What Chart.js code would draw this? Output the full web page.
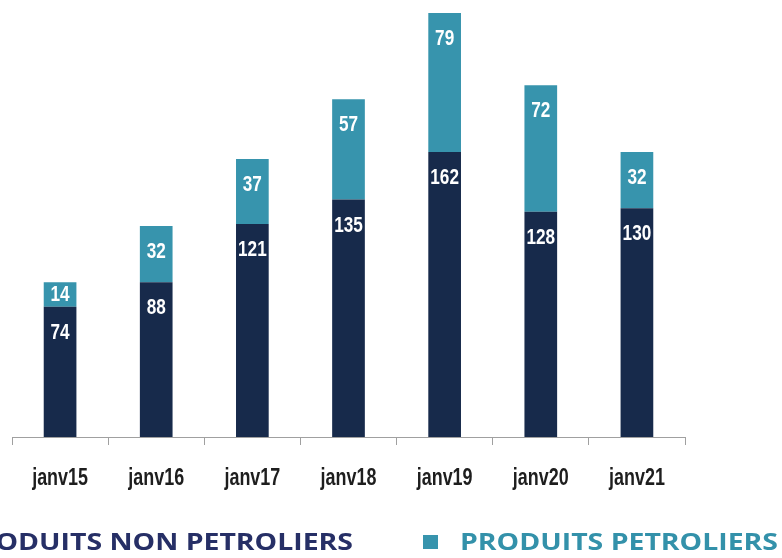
<!DOCTYPE html>
<html>
<head>
<meta charset="utf-8">
<script src="https://cdn.jsdelivr.net/npm/chart.js@4"></script>
<style>
  html, body { margin: 0; padding: 0; background: #ffffff; }
  #wrap { width: 782px; height: 558px; position: relative; }
</style>
</head>
<body>
<div id="wrap"><canvas id="c" width="782" height="558"></canvas></div>
<script>
const categories = ['janv15', 'janv16', 'janv17', 'janv18', 'janv19', 'janv20', 'janv21'];
const nonPetroliers = [74, 88, 121, 135, 162, 128, 130];
const petroliers = [14, 32, 37, 57, 79, 72, 32];
const seriesNames = ['PRODUITS NON PETROLIERS', 'PRODUITS PETROLIERS'];

const DARK = '#172a4b';
const TEAL = '#3794ad';
const SANS = '"Liberation Sans", Arial, sans-serif';
const NARROW_X = 0.78;

function condensedText(ctx, text, x, y, sx) {
  ctx.save();
  ctx.translate(x, y);
  ctx.scale(sx, 1);
  ctx.fillText(text, 0, 0);
  ctx.restore();
}

const valueLabels = {
  id: 'valueLabels',
  afterDatasetsDraw(chart) {
    const ctx = chart.ctx;
    ctx.save();
    ctx.fillStyle = '#ffffff';
    ctx.font = 'bold 22px ' + SANS;
    ctx.textAlign = 'center';
    ctx.textBaseline = 'middle';
    chart.data.datasets.forEach((ds, di) => {
      const meta = chart.getDatasetMeta(di);
      meta.data.forEach((el, i) => {
        const top = Math.min(el.y, el.base);
        const bot = Math.max(el.y, el.base);
        const y = Math.min(top + 26, (top + bot) / 2);
        condensedText(ctx, String(ds.data[i]), el.x, y, NARROW_X);
      });
    });
    ctx.restore();
  }
};

const tickLabels = {
  id: 'tickLabels',
  afterDraw(chart) {
    const ctx = chart.ctx;
    const xs = chart.scales.x;
    ctx.save();
    ctx.fillStyle = '#1e1e1e';
    ctx.font = 'bold 23px ' + SANS;
    ctx.textAlign = 'center';
    ctx.textBaseline = 'alphabetic';
    xs.ticks.forEach((t, i) => {
      const label = xs.getLabelForValue(t.value);
      condensedText(ctx, label, xs.getPixelForTick(i), 485, NARROW_X);
    });
    ctx.restore();
  }
};

const customLegend = {
  id: 'customLegend',
  afterDraw(chart) {
    const ctx = chart.ctx;
    ctx.save();
    ctx.textBaseline = 'alphabetic';
    ctx.textAlign = 'left';
    ctx.font = 'bold 24px "Open Sans", "Liberation Sans", sans-serif';
    const target2 = 318;
    const sx = target2 / ctx.measureText(seriesNames[1]).width;
    // right item
    ctx.fillStyle = TEAL;
    ctx.fillRect(423, 535, 15, 14);
    ctx.fillStyle = '#3391aa';
    condensedText(ctx, seriesNames[1], 460, 550, sx);
    // left item (clipped by canvas edge)
    const w1 = ctx.measureText(seriesNames[0]).width * sx;
    const x1 = 353 - w1;
    ctx.fillStyle = '#262f66';
    condensedText(ctx, seriesNames[0], x1, 550, sx);
    ctx.fillStyle = DARK;
    ctx.fillRect(x1 - 37, 535, 15, 14);
    ctx.restore();
  }
};

new Chart(document.getElementById('c'), {
  type: 'bar',
  data: {
    labels: categories,
    datasets: [
      { label: seriesNames[0], data: nonPetroliers, backgroundColor: DARK, borderWidth: 0,
        barPercentage: 0.68, categoryPercentage: 0.5 },
      { label: seriesNames[1], data: petroliers, backgroundColor: TEAL, borderWidth: 0,
        barPercentage: 0.68, categoryPercentage: 0.5 }
    ]
  },
  options: {
    responsive: false,
    animation: false,
    layout: { padding: { left: 12, right: 97, top: 13, bottom: 0 } },
    plugins: {
      legend: { display: false },
      tooltip: { enabled: false }
    },
    scales: {
      x: {
        stacked: true,
        grid: { display: true, offset: true, drawOnChartArea: false, drawTicks: true, tickLength: 8, color: '#a0a0a0', lineWidth: 1 },
        border: { display: true, color: '#a0a0a0', width: 1 },
        ticks: { display: false },
        afterFit(scale) { scale.height = 121; }
      },
      y: {
        stacked: true,
        display: false,
        min: 0,
        max: 241
      }
    }
  },
  plugins: [valueLabels, tickLabels, customLegend]
});
</script>
</body>
</html>
